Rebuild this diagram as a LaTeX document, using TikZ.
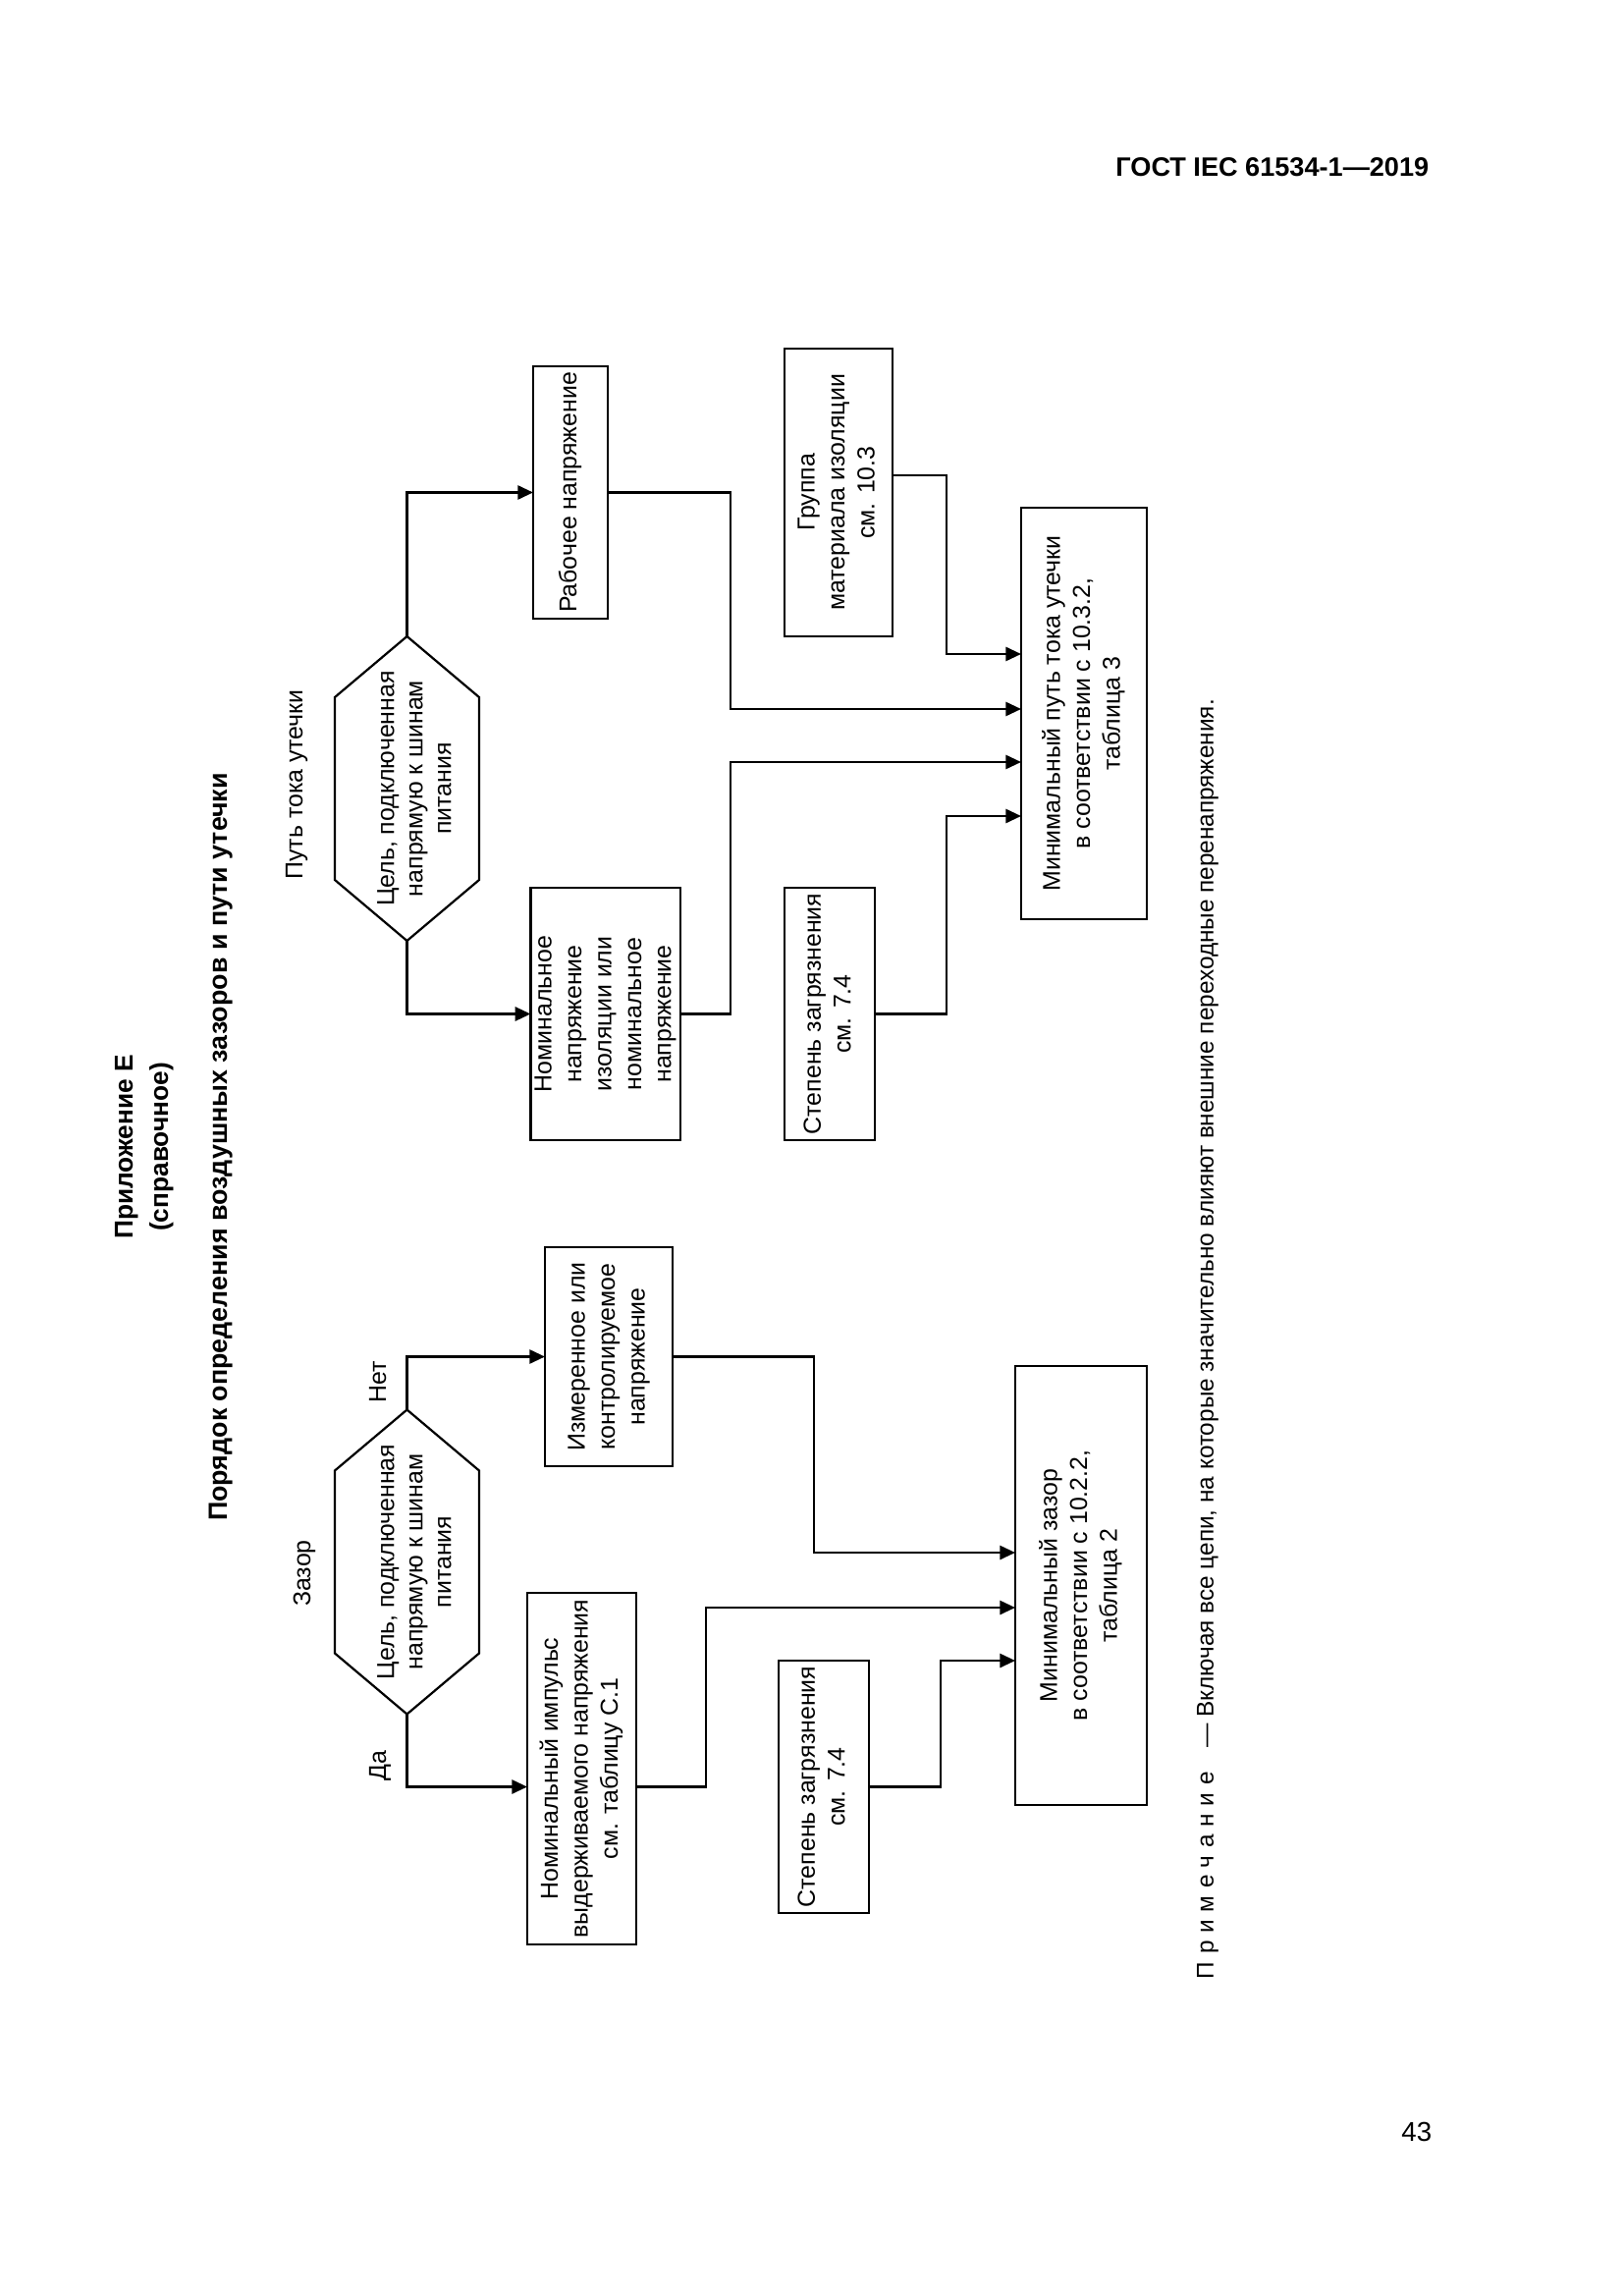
\documentclass[tikz,border=0pt]{standalone}
\usepackage{fontspec}
\setmainfont{Liberation Sans}
\newfontfamily\spacedfont[LetterSpace=32]{Liberation Sans}
\usetikzlibrary{arrows.meta,calc}

\newdimen\px \px=0.127mm
\newcommand{\vtext}[1]{\rotatebox{90}{\begin{tabular}{@{}c@{}}#1\end{tabular}}}

\begin{document}
\begin{tikzpicture}[x=0.127mm,y=-0.127mm,
    boxline/.style={line width=.8pt},
    arr/.style={line width=.9pt,-{Triangle[length=2mm,width=1.8mm]}},
    hexa/.style={inner sep=0pt,outer sep=0pt,minimum width=147\px,minimum height=310\px}]

  \useasboundingbox (0,0) rectangle (1653,2338);

  % page head and foot
  \node[anchor=base east,font=\fontsize{9.8}{12}\selectfont\bfseries] (gost) at (1465,180) {ГОСТ IEC 61534-1—2019};
  \node[anchor=base east,font=\fontsize{10}{12}\selectfont] (page) at (1468,2180) {43};

  % headings
  \node[font=\fontsize{9.5}{13}\selectfont\bfseries] (app) at (146,1168) {\vtext{Приложение Е\\(справочное)}};
  \node[font=\fontsize{9.7}{13}\selectfont\bfseries] (title) at (224,1168) {\vtext{Порядок определения воздушных зазоров и пути утечки}};

  \begin{scope}[every node/.style={draw,boxline,rectangle,inner sep=0pt,outer sep=0pt,font=\fontsize{9}{11}\selectfont}]
    % creepage
    \node[minimum width=76\px,minimum height=257\px]  (rab)  at (581,501.5)   {\vtext{Рабочее напряжение}};
    \node[minimum width=147\px,minimum height=257\px] (nom)  at (616.5,1032.5) {\vtext{Номинальное\\напряжение\\изоляции или\\номинальное\\напряжение}};
    \node[minimum width=110\px,minimum height=293\px] (grp)  at (854,501.5)   {\vtext{Группа\\материала изоляции\\см. 10.3}};
    \node[minimum width=92\px,minimum height=257\px]  (st1)  at (845,1032.5)  {\vtext{Степень загрязнения\\см. 7.4}};
    \node[minimum width=128\px,minimum height=419\px] (minL) at (1104,726.5)  {\vtext{Минимальный путь тока утечки\\в соответствии с 10.3.2,\\таблица 3}};
    % clearance
    \node[minimum width=130\px,minimum height=223\px] (izm)  at (620,1381.5)  {\vtext{Измеренное или\\контролируемое\\напряжение}};
    \node[minimum width=111\px,minimum height=358\px] (imp)  at (592.5,1801)  {\vtext{Номинальный импульс\\выдерживаемого напряжения\\см. таблицу С.1}};
    \node[minimum width=92\px,minimum height=257\px]  (st2)  at (839,1819.5)  {\vtext{Степень загрязнения\\см. 7.4}};
    \node[minimum width=134\px,minimum height=447\px] (minG) at (1101,1614.5) {\vtext{Минимальный зазор\\в соответствии с 10.2.2,\\таблица 2}};
  \end{scope}

  % decisions
  \node[hexa] (hl) at (414.5,803)    {};
  \node[hexa] (hg) at (414.5,1590.5) {};
  \foreach \h in {hl,hg}
    \draw[boxline] (\h.north) -- ($(\h.north east)+(0,62)$) -- ($(\h.south east)+(0,-62)$)
      -- (\h.south) -- ($(\h.south west)+(0,-62)$) -- ($(\h.north west)+(0,62)$) -- cycle;
  \begin{scope}[every node/.style={font=\fontsize{9}{10.5}\selectfont}]
    \node (hlt) at ($(hl)+(10,0)$) {\vtext{Цель, подключенная\\напрямую к шинам\\питания}};
    \node (hgt) at ($(hg)+(10,0)$) {\vtext{Цель, подключенная\\напрямую к шинам\\питания}};
  \end{scope}

  % labels
  \begin{scope}[every node/.style={font=\fontsize{9}{11}\selectfont}]
    \node (lblL) at (302,799)  {\vtext{Путь тока утечки}};
    \node (lblG) at (310,1602) {\vtext{Зазор}};
    \node (no)   at (387,1407) {\vtext{Нет}};
    \node (yes)  at (387,1798) {\vtext{Да}};
  \end{scope}

  % creepage connectors
  \draw[arr] (hl.north) |- (rab.west);
  \draw[arr] (hl.south) |- (nom.west);
  \coordinate (jr) at (744,722);
  \coordinate (jn) at (744,776);
  \coordinate (jg) at (964,666);
  \coordinate (js) at (964,831);
  \draw[arr] (rab.east) -| (jr) -- (jr -| minL.west);
  \draw[arr] (nom.east) -| (jn) -- (jn -| minL.west);
  \draw[arr] (grp.east |- 0,484) -| (jg) -- (jg -| minL.west);
  \draw[arr] (st1.east) -| (js) -- (js -| minL.west);

  % clearance connectors
  \draw[arr] (hg.north) |- (izm.west);
  \draw[arr] (hg.south) |- (imp.west |- st2.east);
  \coordinate (jz) at (829,1581);
  \coordinate (ji) at (719,1637);
  \coordinate (jt) at (958,1691);
  \draw[arr] (izm.east) -| (jz) -- (jz -| minG.west);
  \draw[arr] (imp.east |- st2.east) -| (ji) -- (ji -| minG.west);
  \draw[arr] (st2.east) -| (jt) -- (jt -| minG.west);

  % note
  \node[anchor=south,font=\fontsize{8.8}{11}\selectfont] (note) at (1230,2025)
    {\rotatebox{90}{{\spacedfont Примечание}\quad — Включая все цепи, на которые значительно влияют внешние переходные перенапряжения.}};

\end{tikzpicture}
\end{document}
